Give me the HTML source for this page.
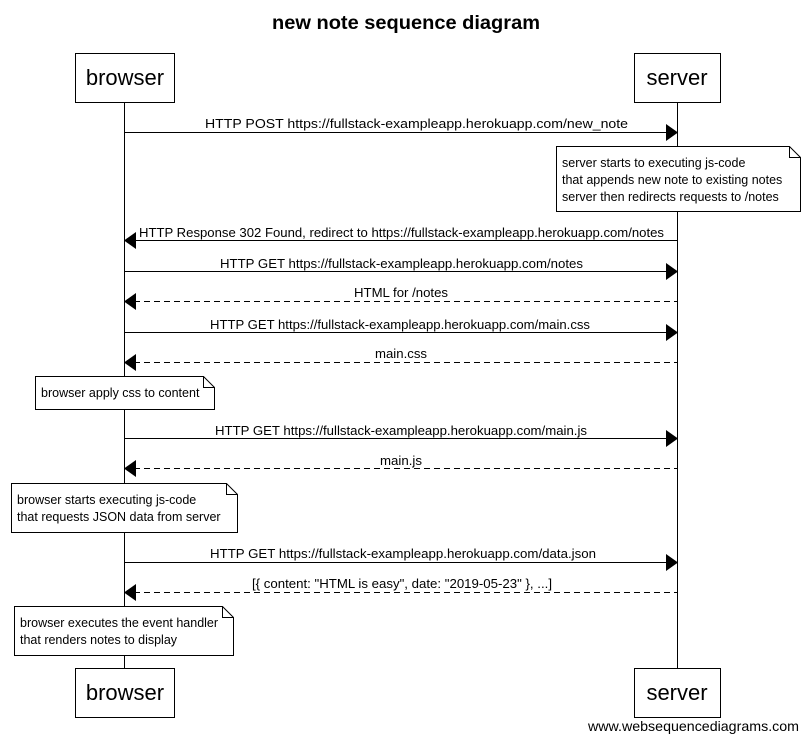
<!DOCTYPE html>
<html><head><meta charset="utf-8"><style>
html,body{margin:0;padding:0;background:#fff;width:808px;height:742px;overflow:hidden}
text{font-family:"Liberation Sans",Arial,sans-serif;fill:#000}
</style></head><body>
<svg width="808" height="742" viewBox="0 0 808 742" xmlns="http://www.w3.org/2000/svg">
<text x="406" y="29" font-size="19" font-weight="bold" text-anchor="middle" textLength="268" lengthAdjust="spacingAndGlyphs">new note sequence diagram</text>
<g stroke="#000" stroke-width="1" fill="none">
<line x1="124.5" y1="102" x2="124.5" y2="668"/>
<line x1="677.5" y1="102" x2="677.5" y2="668"/>
<rect x="75.5" y="53.5" width="99" height="49" fill="#fff"/>
<rect x="634.5" y="53.5" width="86" height="49" fill="#fff"/>
<rect x="75.5" y="668.5" width="99" height="49" fill="#fff"/>
<rect x="634.5" y="668.5" width="86" height="49" fill="#fff"/>
<line x1="124" y1="132.5" x2="667" y2="132.5"/>
<line x1="134" y1="240.5" x2="677" y2="240.5"/>
<line x1="124" y1="271.5" x2="667" y2="271.5"/>
<line x1="124" y1="332.5" x2="667" y2="332.5"/>
<line x1="124" y1="438.5" x2="667" y2="438.5"/>
<line x1="124" y1="562.5" x2="667" y2="562.5"/>
<g stroke-dasharray="6,4">
<line x1="134" y1="301.5" x2="677" y2="301.5"/>
<line x1="134" y1="362.5" x2="677" y2="362.5"/>
<line x1="134" y1="468.5" x2="677" y2="468.5"/>
<line x1="134" y1="592.5" x2="677" y2="592.5"/>
</g>
<path d="M556.5 146.5 H789.5 L800.5 157.5 V211.5 H556.5 Z M789.5 146.5 V157.5 H800.5" fill="#fff"/>
<path d="M35.5 376.5 H203.5 L214.5 387.5 V409.5 H35.5 Z M203.5 376.5 V387.5 H214.5" fill="#fff"/>
<path d="M11.5 483.5 H226.5 L237.5 494.5 V532.5 H11.5 Z M226.5 483.5 V494.5 H237.5" fill="#fff"/>
<path d="M14.5 606.5 H222.5 L233.5 617.5 V655.5 H14.5 Z M222.5 606.5 V617.5 H233.5" fill="#fff"/>
</g>
<g fill="#000">
<path d="M666 124 L678 132.5 L666 141 Z"/>
<path d="M136 232 L124 240.5 L136 249 Z"/>
<path d="M666 263 L678 271.5 L666 280 Z"/>
<path d="M136 293 L124 301.5 L136 310 Z"/>
<path d="M666 324 L678 332.5 L666 341 Z"/>
<path d="M136 354 L124 362.5 L136 371 Z"/>
<path d="M666 430 L678 438.5 L666 447 Z"/>
<path d="M136 460 L124 468.5 L136 477 Z"/>
<path d="M666 554 L678 562.5 L666 571 Z"/>
<path d="M136 584 L124 592.5 L136 601 Z"/>
</g>
<g font-size="22" text-anchor="middle">
<text x="125" y="85">browser</text>
<text x="677" y="85">server</text>
<text x="125" y="700">browser</text>
<text x="677" y="700">server</text>
</g>
<g font-size="13" lengthAdjust="spacingAndGlyphs">
<text x="205" y="128" textLength="423" lengthAdjust="spacingAndGlyphs">HTTP POST https://fullstack-exampleapp.herokuapp.com/new_note</text>
<text x="139" y="237" textLength="525" lengthAdjust="spacingAndGlyphs">HTTP Response 302 Found, redirect to https://fullstack-exampleapp.herokuapp.com/notes</text>
<text x="220" y="268" textLength="363" lengthAdjust="spacingAndGlyphs">HTTP GET https://fullstack-exampleapp.herokuapp.com/notes</text>
<text x="354" y="297" textLength="94" lengthAdjust="spacingAndGlyphs">HTML for /notes</text>
<text x="210" y="329" textLength="380" lengthAdjust="spacingAndGlyphs">HTTP GET https://fullstack-exampleapp.herokuapp.com/main.css</text>
<text x="375" y="358" textLength="52" lengthAdjust="spacingAndGlyphs">main.css</text>
<text x="215" y="435" textLength="372" lengthAdjust="spacingAndGlyphs">HTTP GET https://fullstack-exampleapp.herokuapp.com/main.js</text>
<text x="380" y="465" textLength="42" lengthAdjust="spacingAndGlyphs">main.js</text>
<text x="210" y="558" textLength="386" lengthAdjust="spacingAndGlyphs">HTTP GET https://fullstack-exampleapp.herokuapp.com/data.json</text>
<text x="252" y="588" textLength="300" lengthAdjust="spacingAndGlyphs">[{ content: "HTML is easy", date: "2019-05-23" }, ...]</text>
</g>
<g font-size="12.5">
<text x="562" y="167">server starts to executing js-code</text>
<text x="562" y="184">that appends new note to existing notes</text>
<text x="562" y="201">server then redirects requests to /notes</text>
<text x="41" y="397">browser apply css to content</text>
<text x="17" y="504">browser starts executing js-code</text>
<text x="17" y="521">that requests JSON data from server</text>
<text x="20" y="627">browser executes the event handler</text>
<text x="20" y="644">that renders notes to display</text>
<text x="799" y="731" font-size="14" text-anchor="end" textLength="211" lengthAdjust="spacingAndGlyphs">www.websequencediagrams.com</text>
</g>
</svg>
</body></html>
